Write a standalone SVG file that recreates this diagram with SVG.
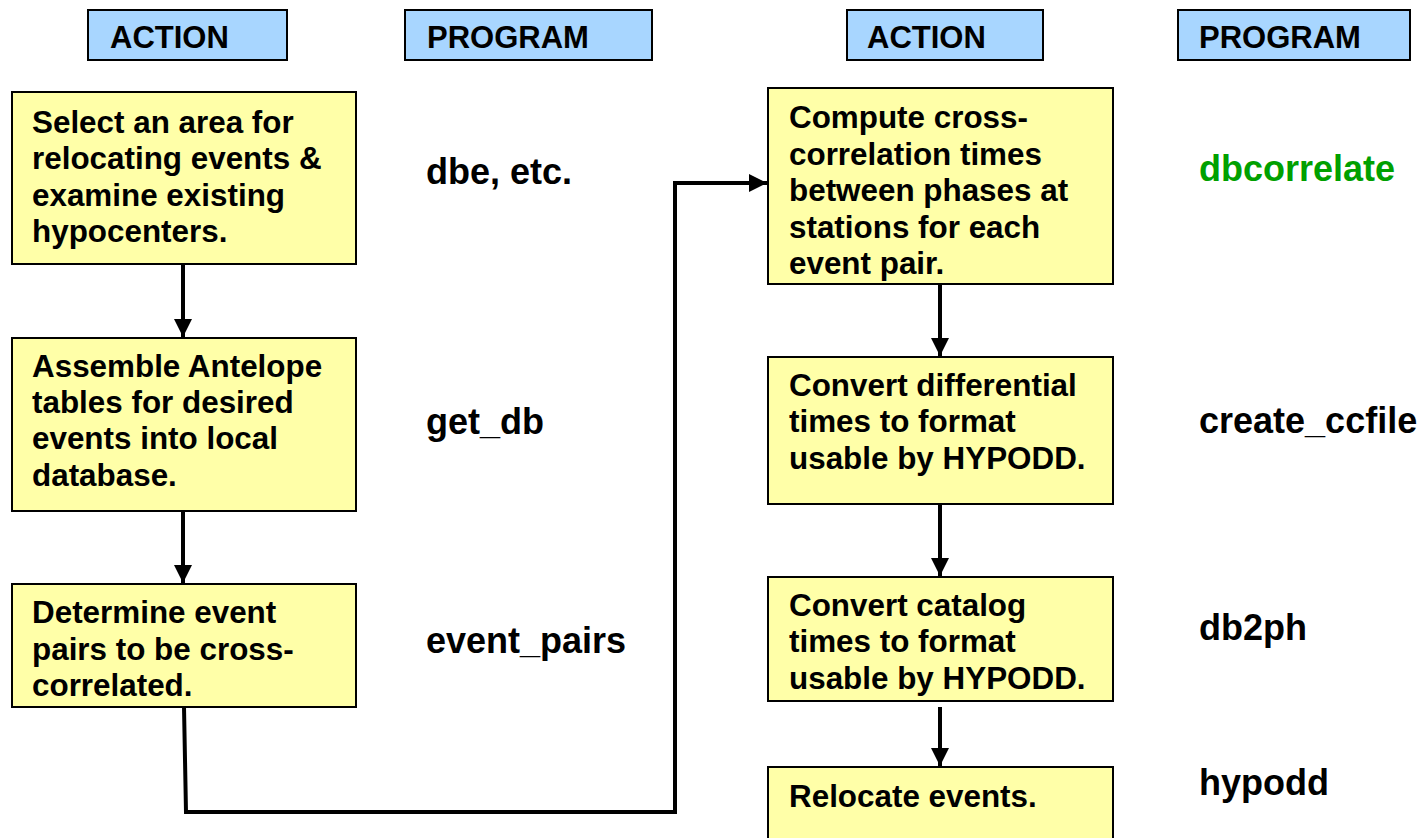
<svg xmlns="http://www.w3.org/2000/svg" width="1424" height="838" viewBox="0 0 1424 838">
<style>
.hdr{fill:#a8d6ff;stroke:#000;stroke-width:2}
.box{fill:#ffffa8;stroke:#000;stroke-width:2}
text{font-family:"Liberation Sans",Arial,sans-serif;font-weight:bold;fill:#000}
.h{font-size:31px}
.t{font-size:31.4px}
.p{font-size:36px}
.g{fill:#00a000}
.c{fill:none;stroke:#000;stroke-width:4}
</style>
<defs>
<marker id="ah" viewBox="0 0 10 10" refX="10" refY="5" markerWidth="4.5" markerHeight="4.5" markerUnits="strokeWidth" orient="auto">
<path d="M0,0 L10,5 L0,10 Z" fill="#000"/>
</marker>
</defs>
<g id="hdr-action-left"><rect class="hdr" x="88" y="10" width="199" height="50"/><text class="h" x="110" y="48">ACTION</text></g>
<g id="hdr-program-left"><rect class="hdr" x="405" y="10" width="247" height="50"/><text class="h" x="427" y="48">PROGRAM</text></g>
<g id="hdr-action-right"><rect class="hdr" x="847" y="10" width="196" height="50"/><text class="h" x="867" y="48">ACTION</text></g>
<g id="hdr-program-right"><rect class="hdr" x="1178" y="10" width="232" height="50"/><text class="h" x="1199" y="48">PROGRAM</text></g>

<g id="box-select"><rect class="box" x="12" y="92" width="344" height="172"/>
<text class="t" x="32" y="133">Select an area for</text>
<text class="t" x="32" y="169">relocating events &amp;</text>
<text class="t" x="32" y="206">examine existing</text>
<text class="t" x="32" y="242">hypocenters.</text></g>
<g id="box-assemble"><rect class="box" x="12" y="338" width="344" height="173"/>
<text class="t" x="32" y="377">Assemble Antelope</text>
<text class="t" x="32" y="413">tables for desired</text>
<text class="t" x="32" y="449">events into local</text>
<text class="t" x="32" y="486">database.</text></g>
<g id="box-determine"><rect class="box" x="12" y="584" width="344" height="123"/>
<text class="t" x="32" y="623">Determine event</text>
<text class="t" x="32" y="660">pairs to be cross-</text>
<text class="t" x="32" y="696">correlated.</text></g>

<g id="box-compute"><rect class="box" x="768" y="88" width="345" height="196"/>
<text class="t" x="789" y="128">Compute cross-</text>
<text class="t" x="789" y="165">correlation times</text>
<text class="t" x="789" y="201">between phases at</text>
<text class="t" x="789" y="238">stations for each</text>
<text class="t" x="789" y="274">event pair.</text></g>
<g id="box-convert-diff"><rect class="box" x="768" y="357" width="345" height="147"/>
<text class="t" x="789" y="396">Convert differential</text>
<text class="t" x="789" y="432">times to format</text>
<text class="t" x="789" y="469">usable by HYPODD.</text></g>
<g id="box-convert-cat"><rect class="box" x="768" y="577" width="345" height="124"/>
<text class="t" x="789" y="616">Convert catalog</text>
<text class="t" x="789" y="652">times to format</text>
<text class="t" x="789" y="689">usable by HYPODD.</text></g>
<g id="box-relocate"><rect class="box" x="768" y="767" width="345" height="90"/>
<text class="t" x="789" y="807">Relocate events.</text></g>

<g id="prog-dbe"><text class="p" x="426" y="184">dbe, etc.</text></g>
<g id="prog-getdb"><text class="p" x="426" y="434">get_db</text></g>
<g id="prog-eventpairs"><text class="p" x="426" y="653">event_pairs</text></g>
<g id="prog-dbcorrelate"><text class="p g" x="1199" y="181">dbcorrelate</text></g>
<g id="prog-createccfile"><text class="p" x="1199" y="433">create_ccfile</text></g>
<g id="prog-db2ph"><text class="p" x="1199" y="640">db2ph</text></g>
<g id="prog-hypodd"><text class="p" x="1199" y="795">hypodd</text></g>

<g id="connectors">
<path class="c" d="M183,264 L183,337" marker-end="url(#ah)"/>
<path class="c" d="M183,511 L183,583" marker-end="url(#ah)"/>
<path class="c" d="M184,707 L186,812 L675,812 L675,183 L767,183" marker-end="url(#ah)"/>
<path class="c" d="M940,284 L940,356" marker-end="url(#ah)"/>
<path class="c" d="M940,504 L940,576" marker-end="url(#ah)"/>
<path class="c" d="M940,707 L940,766" marker-end="url(#ah)"/>
</g>
</svg>
